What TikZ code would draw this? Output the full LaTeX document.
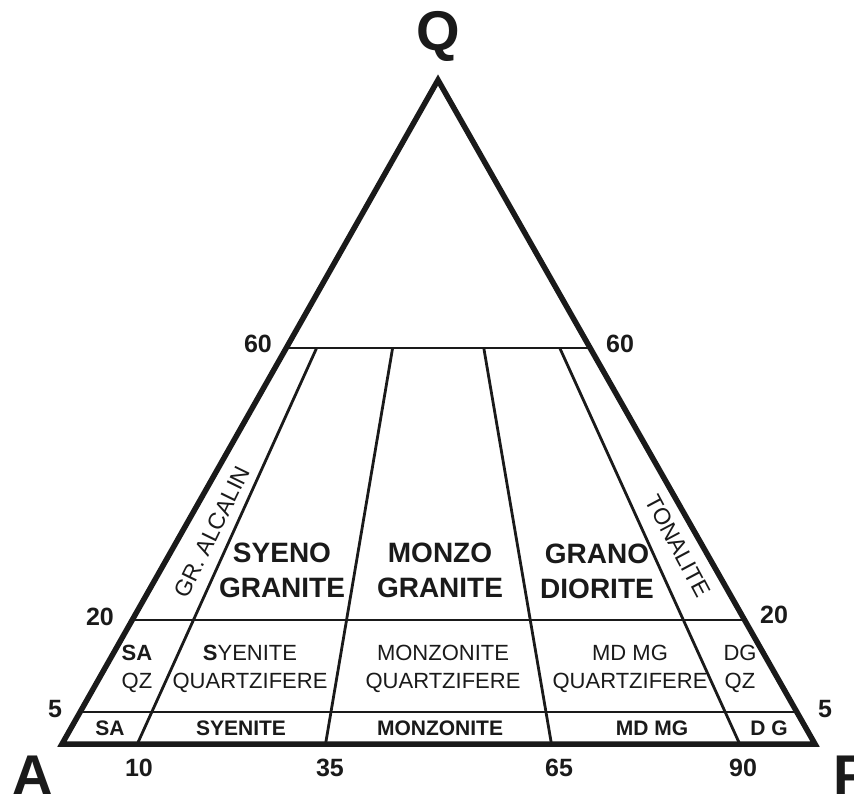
\documentclass[tikz,border=0pt]{standalone}
\usepackage{fontspec}
\setmainfont{Liberation Sans}
\usetikzlibrary{calc}
\definecolor{ink}{HTML}{1A1A1A}
\begin{document}
\begin{tikzpicture}[x=1pt,y=-1pt,
  outerline/.style={line width=5.5pt, line join=miter, draw=ink},
  innerline/.style={line width=2.8pt, draw=ink},
  bigletter/.style={inner sep=0pt, text=ink, font=\fontsize{56}{56}\selectfont\bfseries},
  numlbl/.style={inner sep=0pt, text=ink, font=\fontsize{25}{25}\selectfont\bfseries},
  fieldlbl/.style={inner sep=0pt, text=ink, align=center, font=\fontsize{28}{35}\selectfont\bfseries},
  midlbl/.style={inner sep=0pt, text=ink, align=center, font=\fontsize{22}{28}\selectfont},
  botlbl/.style={inner sep=0pt, text=ink, font=\fontsize{21}{21}\selectfont\bfseries},
  slantlbl/.style={inner sep=0pt, text=ink, font=\fontsize{23}{23}\selectfont}]
\useasboundingbox (0,0) rectangle (854,801);
\fill[white] (0,0) rectangle (854,801);
% corners
\coordinate (A) at (62,744);
\coordinate (P) at (815,744);
\coordinate (Q) at (438,80);
% horizontal levels
\coordinate (L60) at ($(A)!0.5964!(Q)$);
\coordinate (R60) at ($(P)!0.5964!(Q)$);
\coordinate (L20) at ($(A)!0.1867!(Q)$);
\coordinate (R20) at ($(P)!0.1867!(Q)$);
\coordinate (L5) at ($(A)!0.0482!(Q)$);
\coordinate (R5) at ($(P)!0.0482!(Q)$);
% radial lines
\coordinate (B10) at ($(A)!0.10!(P)$);
\coordinate (B35) at ($(A)!0.35!(P)$);
\coordinate (B65) at ($(A)!0.65!(P)$);
\coordinate (B90) at ($(A)!0.90!(P)$);
\coordinate (T10) at ($(B10)!0.5964!(Q)$);
\coordinate (T35) at ($(B35)!0.5964!(Q)$);
\coordinate (T65) at ($(B65)!0.5964!(Q)$);
\coordinate (T90) at ($(B90)!0.5964!(Q)$);
\draw[innerline] (L60) -- (R60);
\draw[innerline] (L20) -- (R20);
\draw[innerline] (L5) -- (R5);
\draw[innerline] (B10) -- (T10);
\draw[innerline] (B35) -- (T35);
\draw[innerline] (B65) -- (T65);
\draw[innerline] (B90) -- (T90);
\draw[outerline] (A) -- (P) -- (Q) -- cycle;
% vertex labels
\node[bigletter] (qlab) at (438,36) {Q};
\node[bigletter] (alab) at (33,775) {A};
\node[bigletter] (plab) at (852,775) {P};
% scale numbers
\node[numlbl] (n60l) at (258,344) {60};
\node[numlbl] (n60r) at (620,344) {60};
\node[numlbl] (n20l) at (100,617) {20};
\node[numlbl] (n20r) at (774,615) {20};
\node[numlbl] (n5l) at (55,709) {5};
\node[numlbl] (n5r) at (825,709) {5};
\node[numlbl] (n10) at (139,768) {10};
\node[numlbl] (n35) at (330,768) {35};
\node[numlbl] (n65) at (559,768) {65};
\node[numlbl] (n90) at (743,768) {90};
% field names
\node[fieldlbl] (syg) at (282,570) {SYENO\\GRANITE};
\node[fieldlbl] (mzg) at (440,570) {MONZO\\GRANITE};
\node[fieldlbl] (grd) at (597,571) {GRANO\\DIORITE};
\node[slantlbl, rotate=64] (gra) at (212,532) {GR. ALCALIN};
\node[slantlbl, rotate=-62] (ton) at (678,546) {TONALITE};
% quartz-bearing row
\node[midlbl] (saqz) at (137,669) {\textbf{SA}\\QZ};
\node[midlbl] (syq) at (250,669) {\textbf{S}YENITE\\QUARTZIFERE};
\node[midlbl] (mzq) at (443,669) {MONZONITE\\QUARTZIFERE};
\node[midlbl] (mdq) at (630,669) {MD MG\\QUARTZIFERE};
\node[midlbl] (dgqz) at (740,669) {DG\\QZ};
% bottom row
\node[botlbl] (sa) at (110,728) {SA};
\node[botlbl] (sy) at (241,728) {SYENITE};
\node[botlbl] (mz) at (440,728) {MONZONITE};
\node[botlbl] (md) at (652,728) {MD MG};
\node[botlbl] (dg) at (769,728) {D G};
\end{tikzpicture}
\end{document}
